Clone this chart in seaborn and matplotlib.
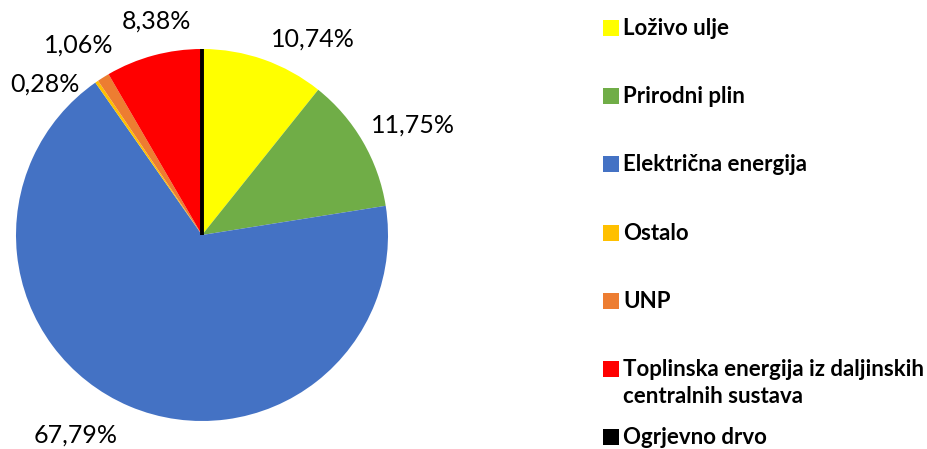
import numpy as np
import matplotlib
matplotlib.use("Agg")
import matplotlib.pyplot as plt
import seaborn as sns
from matplotlib.patches import Rectangle

# data
categories = ["Loživo ulje", "Prirodni plin", "Električna energija", "Ostalo", "UNP",
              "Toplinska energija iz daljinskih\ncentralnih sustava", "Ogrjevno drvo"]
shares = [10.74, 11.75, 67.79, 0.28, 1.06, 8.38, 0.0]
colors = ["#FFFF00", "#70AD47", "#4472C4", "#FFC000", "#ED7D31", "#FF0000", "#000000"]

# small label nudges (pixels) to mimic the original placement
nudge = {0: (4, 0), 3: (-12, -22), 4: (15, 13), 5: (40, 14), 2: (-8, -9)}

sns.set_style("white")
plt.rcParams['font.family'] = ['Lato', 'DejaVu Sans']

W, H = 928, 449
fig = plt.figure(figsize=(W / 100, H / 100), dpi=100)

# pie axes: centre ~(202,235) px, radius ~186 px
cx, cy, r = 202, 235, 186
ax = fig.add_axes([(cx - r) / W, (H - cy - r) / H, 2 * r / W, 2 * r / H])
wedges, _ = ax.pie(shares, colors=colors, startangle=90, counterclock=False,
                   wedgeprops=dict(linewidth=0))
# zero-sized wedge shows up as a black line at 12 o'clock
wedges[-1].set_edgecolor("black")
wedges[-1].set_linewidth(2.8)
ax.set_xlim(-1, 1)
ax.set_ylim(-1, 1)
ax.set_aspect("equal")
ax.axis("off")

# percentage labels outside the pie
cum = np.cumsum([0] + shares[:-1])
for i, (v, c0) in enumerate(zip(shares, cum)):
    if v <= 0:
        continue
    ang = np.deg2rad(90 - (c0 + v / 2) * 3.6)
    x, y = 1.05 * np.cos(ang), 1.05 * np.sin(ang)
    ha = "left" if x > 0 else "right"
    va = "bottom" if y > 0 else "top"
    dx, dy = nudge.get(i, (0, 0))
    ax.annotate(f"{v:.2f}".replace(".", ",") + "%", (x, y), xytext=(dx, dy),
                textcoords="offset pixels", ha=ha, va=va, fontsize=18,
                color="#000000", annotation_clip=False)

# legend drawn in pixel coordinates
lax = fig.add_axes([0, 0, 1, 1])
lax.set_xlim(0, W)
lax.set_ylim(H, 0)
lax.axis("off")
row0, step = 28, 68.2
for i, (lab, col) in enumerate(zip(categories, colors)):
    yc = row0 + i * step
    lax.add_patch(Rectangle((603, yc - 8), 16, 16, facecolor=col, edgecolor="none"))
    lax.text(623, yc - 10, lab, ha="left", va="top", fontsize=16,
             fontweight="bold", linespacing=1.35, color="#000000")

fig.savefig("out.png", dpi=100)
